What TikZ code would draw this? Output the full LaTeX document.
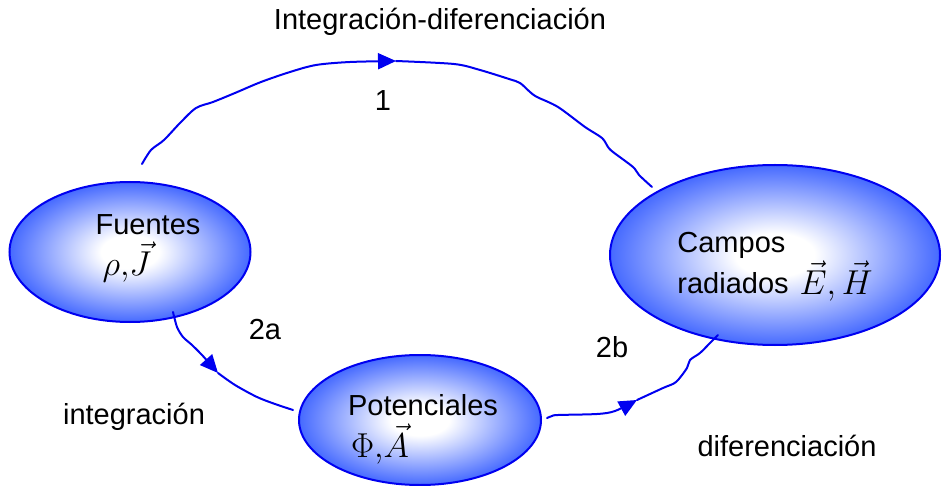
\documentclass[tikz,border=0pt]{standalone}
\usepackage{fontspec}
\setmainfont{Liberation Sans}
\usetikzlibrary{arrows.meta,shapes.geometric}
\definecolor{edgeblue}{RGB}{50,90,255}
\definecolor{lineblue}{RGB}{0,0,240}
\pgfdeclareradialshading{ellshade}{\pgfpoint{0bp}{0bp}}{color(0bp)=(white); color(6bp)=(white); color(27bp)=(edgeblue); color(50bp)=(edgeblue)}
\tikzset{
  blob/.style={ellipse, draw=lineblue, line width=1pt, shading=ellshade, inner sep=0pt, outer sep=0pt},
  lbl/.style={inner sep=0pt, font=\fontsize{14.5}{17}\selectfont},
  mth/.style={inner sep=0pt, font=\fontsize{17.5}{20}\selectfont},
  conn/.style={draw=lineblue, line width=1pt, line cap=round},
  headed/.style={-{Triangle[length=9pt,width=8pt,fill=lineblue]}}
}
\begin{document}
\begin{tikzpicture}[x=0.5pt,y=-0.5pt]
\useasboundingbox (0,0) rectangle (942,486);
% ellipses
\node[blob, minimum width=120.5pt, minimum height=70pt] (fu) at (130,252) {};
\node[blob, minimum width=165pt, minimum height=90pt] (ca) at (775,255) {};
\node[blob, minimum width=121pt, minimum height=65pt] (po) at (420,420) {};
% texts in ellipses
\node[lbl] (fut) at (148,225) {Fuentes};
\node[mth] (fum) at (127,262) {$\rho{,}\vec J$};
\node[lbl, anchor=west] (cat1) at (677,245) {Campos};
\node[lbl, anchor=west] (cat2) at (677,283) {radiados};
\node[mth] (cam) at (836,281) {$\vec E{,}\,\vec H$};
\node[lbl] (pot) at (423,405) {Potenciales};
\node[mth] (pom) at (380,444) {$\Phi{,}\vec A$};
% labels
\node[lbl] (l0) at (440,22) {Integración-diferenciación};
\node[lbl] (l1) at (383,101) {1};
\node[lbl] (l2a) at (265,330) {2a};
\node[lbl] (l2b) at (612,347) {2b};
\node[lbl] (li) at (134,417) {integración};
\node[lbl] (ld) at (787,446) {diferenciación};
% connector end points and arrow points
\coordinate (c1s) at (142,164);
\coordinate (a1) at (396,61);
\coordinate (c1e) at (652,187);
\coordinate (c2s) at (173,312);
\coordinate (a2) at (218,373);
\coordinate (c2e) at (293,410);
\coordinate (c3s) at (547,418);
\coordinate (a3) at (637,400);
\coordinate (c3e) at (718,335);
% connector 1
\draw[conn, headed] plot[smooth, tension=0.5] coordinates {(c1s) (151,150) (164,140) (180,123) (196,108) (213,102) (235,93) (261,82) (290,72) (316,65) (350,62) (a1)};
\draw[conn] plot[smooth, tension=0.5] coordinates {(a1) (454,64) (480,70) (509,79) (520,83) (530,92) (537,97) (558,107) (585,127) (602,138) (608,147) (613,152) (633,167) (639,175) (c1e)};
% connector 2a
\draw[conn, headed] plot[smooth, tension=0.5] coordinates {(c2s) (177,327) (183,337) (192,345) (202,355) (210,364) (a2)};
\draw[conn] plot[smooth, tension=0.5] coordinates {(a2) (235,385) (257,397) (275,404) (c2e)};
% connector 2b
\draw[conn, headed] plot[smooth, tension=0.5] coordinates {(c3s) (552,416) (558,415) (597,414) (615,411) (a3)};
\draw[conn] plot[smooth, tension=0.5] coordinates {(a3) (663,388) (676,382) (687,368) (690,360) (700,353) (710,343) (c3e)};
\end{tikzpicture}
\end{document}
